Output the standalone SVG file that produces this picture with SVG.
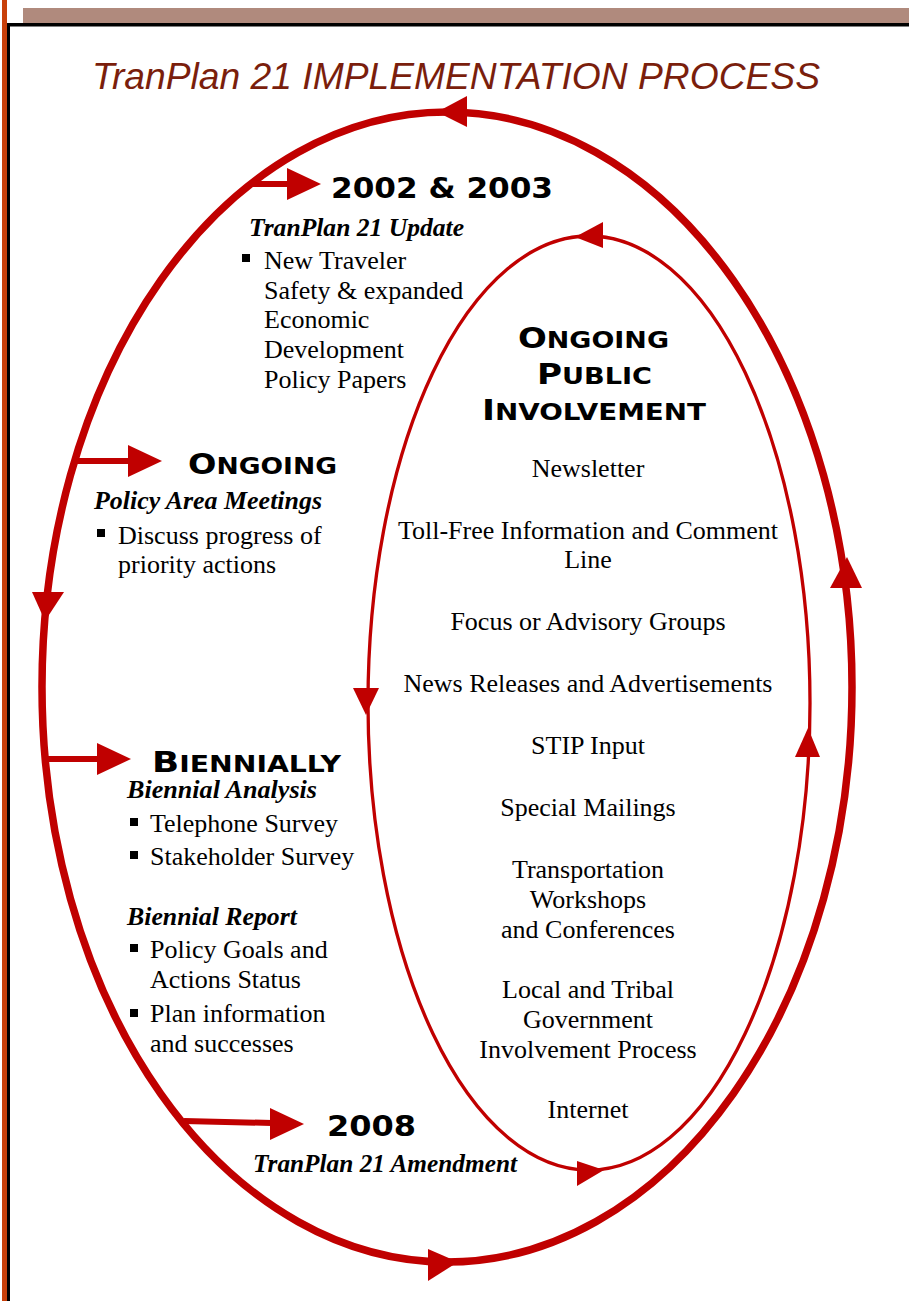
<svg xmlns="http://www.w3.org/2000/svg" width="909" height="1301" viewBox="0 0 909 1301">
<style>
.title{font-family:"Liberation Sans",Arial,sans-serif;font-style:italic;font-size:37px;fill:#7a1e0c}
.cap{font-family:"DejaVu Sans",sans-serif;font-weight:bold;font-size:29px;fill:#000}
.sm{font-size:23px}
.hd{font-family:"Liberation Serif","Times New Roman",serif;font-style:italic;font-weight:bold;font-size:25px;fill:#000}
.tx{font-family:"Liberation Serif","Times New Roman",serif;font-size:26px;fill:#000}
.mid{text-anchor:middle}
.loop{fill:none;stroke:#c00000}
.ar{fill:#c00000}
.ln{stroke:#c00000;stroke-width:6;fill:none}
</style>
<g id="frame">
<rect x="2" y="0" width="5" height="1301" fill="#c8400a"/>
<rect x="7" y="23" width="3" height="1278" fill="#000"/>
<rect x="23" y="8" width="886" height="15" fill="#b08a7d"/>
<rect x="7" y="23" width="902" height="3.5" fill="#000"/>
</g>
<text id="title" class="title" x="92" y="89" textLength="728" lengthAdjust="spacingAndGlyphs">TranPlan 21 IMPLEMENTATION PROCESS</text>
<g id="connectors">
<ellipse class="loop" cx="447" cy="687" rx="405" ry="575" stroke-width="7.5"/>
<polygon class="ar" points="437,112 467,96 467,127"/>
<polygon class="ar" points="32,592 64,592 45,621"/>
<polygon class="ar" points="428,1249 428,1281 458,1262"/>
<polygon class="ar" points="830,588 862,588 847,557"/>
<ellipse class="loop" cx="589" cy="703" rx="221" ry="467" stroke-width="3.3"/>
<polygon class="ar" points="575,237 603,222 603,248"/>
<polygon class="ar" points="353,688 379,688 366,715"/>
<polygon class="ar" points="577,1161 577,1186 604,1170"/>
<polygon class="ar" points="795,757 820,757 808,728"/>
<line class="ln" x1="250" y1="184" x2="290" y2="184"/>
<polygon class="ar" points="287,168 287,200 321,184"/>
<line class="ln" x1="76" y1="461" x2="130" y2="461"/>
<polygon class="ar" points="128,445 128,477 162,461"/>
<line class="ln" x1="45" y1="759" x2="100" y2="759"/>
<polygon class="ar" points="97,743 97,775 131,759"/>
<line class="ln" x1="184" y1="1121" x2="272" y2="1123"/>
<polygon class="ar" points="270,1108 270,1140 304,1124"/>
</g>
<g id="node-2002">
<text class="cap" x="331" y="198" textLength="222" lengthAdjust="spacingAndGlyphs">2002 &amp; 2003</text>
<text class="hd" x="249" y="236" textLength="215" lengthAdjust="spacingAndGlyphs">TranPlan 21 Update</text>
<rect x="242" y="254" width="8" height="8"/>
<text class="tx" x="264" y="269">New Traveler</text>
<text class="tx" x="264" y="298.5">Safety &amp; expanded</text>
<text class="tx" x="264" y="328">Economic</text>
<text class="tx" x="264" y="358">Development</text>
<text class="tx" x="264" y="388">Policy Papers</text>
</g>
<g id="node-ongoing">
<text class="cap" x="188" y="474" textLength="149" lengthAdjust="spacingAndGlyphs">O<tspan class="sm">NGOING</tspan></text>
<text class="hd" x="94" y="509" textLength="228" lengthAdjust="spacingAndGlyphs">Policy Area Meetings</text>
<rect x="97" y="529" width="8" height="8"/>
<text class="tx" x="118" y="544">Discuss progress of</text>
<text class="tx" x="118" y="573">priority actions</text>
</g>
<g id="node-biennially">
<text class="cap" x="152" y="772" textLength="189" lengthAdjust="spacingAndGlyphs">B<tspan class="sm">IENNIALLY</tspan></text>
<text class="hd" x="127" y="798" textLength="190" lengthAdjust="spacingAndGlyphs">Biennial Analysis</text>
<rect x="130" y="818" width="8" height="8"/>
<text class="tx" x="150" y="832">Telephone Survey</text>
<rect x="130" y="851" width="8" height="8"/>
<text class="tx" x="150" y="865">Stakeholder Survey</text>
<text class="hd" x="127" y="925" textLength="170" lengthAdjust="spacingAndGlyphs">Biennial Report</text>
<rect x="130" y="944" width="8" height="8"/>
<text class="tx" x="150" y="958">Policy Goals and</text>
<text class="tx" x="150" y="987.5">Actions Status</text>
<rect x="130" y="1009" width="8" height="8"/>
<text class="tx" x="150" y="1022">Plan information</text>
<text class="tx" x="150" y="1051.5">and successes</text>
</g>
<g id="node-2008">
<text class="cap" x="327" y="1136" textLength="89" lengthAdjust="spacingAndGlyphs">2008</text>
<text class="hd" x="253" y="1172" textLength="264" lengthAdjust="spacingAndGlyphs">TranPlan 21 Amendment</text>
</g>
<g id="node-public">
<text class="cap" x="518" y="348" textLength="151" lengthAdjust="spacingAndGlyphs">O<tspan class="sm">NGOING</tspan></text>
<text class="cap" x="537" y="384" textLength="115" lengthAdjust="spacingAndGlyphs">P<tspan class="sm">UBLIC</tspan></text>
<text class="cap" x="482" y="420" textLength="224" lengthAdjust="spacingAndGlyphs">I<tspan class="sm">NVOLVEMENT</tspan></text>
<text class="tx mid" x="588" y="477">Newsletter</text>
<text class="tx mid" x="588" y="538.5">Toll-Free Information and Comment</text>
<text class="tx mid" x="588" y="568">Line</text>
<text class="tx mid" x="588" y="630">Focus or Advisory Groups</text>
<text class="tx mid" x="588" y="692">News Releases and Advertisements</text>
<text class="tx mid" x="588" y="754">STIP Input</text>
<text class="tx mid" x="588" y="816">Special Mailings</text>
<text class="tx mid" x="588" y="878">Transportation</text>
<text class="tx mid" x="588" y="908">Workshops</text>
<text class="tx mid" x="588" y="938">and Conferences</text>
<text class="tx mid" x="588" y="998">Local and Tribal</text>
<text class="tx mid" x="588" y="1028">Government</text>
<text class="tx mid" x="588" y="1058">Involvement Process</text>
<text class="tx mid" x="588" y="1118">Internet</text>
</g>
</svg>
